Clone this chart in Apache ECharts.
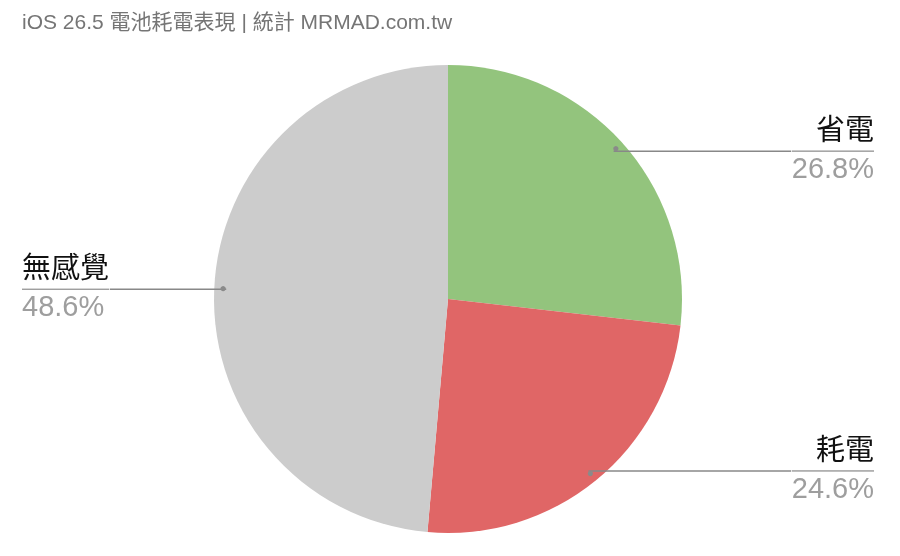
<!DOCTYPE html>
<html>
<head>
<meta charset="utf-8">
<script src="https://cdn.jsdelivr.net/npm/echarts@6/dist/echarts.min.js"></script>
<style>
html,body{margin:0;padding:0;background:#fff;}
#main{width:900px;height:556px;}
</style>
</head>
<body>
<div id="main"></div>
<script>
const titleText = 'iOS 26.5 電池耗電表現 | 統計 MRMAD.com.tw';
const categories = ['省電', '耗電', '無感覺'];
const values = [26.8, 24.6, 48.6];
const colors = ['#93c47d', '#e06666', '#cccccc'];

const FONT = 'Liberation Sans, Arial, "Noto Sans CJK TC", sans-serif';
const chart = echarts.init(document.getElementById('main'), null, {renderer: 'canvas'});
const CX = 448, CY = 299, R = 234, RL = 222;

const data = categories.map((c, i) => ({name: c, value: values[i]}));
const labelData = data.map((d, i) => (i === 2 ? {...d, label: {edgeDistance: 22}} : d));

chart.setOption({
  animation: false,
  title: {
    text: titleText,
    left: 17, top: 8,
    textStyle: {fontFamily: FONT, fontSize: 21, fontWeight: 'normal', color: '#757575'}
  },
  series: [
    {
      type: 'pie',
      z: 1,
      center: [CX, CY],
      radius: R,
      startAngle: 90,
      clockwise: true,
      silent: true,
      label: {show: false},
      labelLine: {show: false},
      itemStyle: {borderWidth: 0},
      data: data.map((d, i) => ({...d, itemStyle: {color: colors[i]}}))
    },
    {
      type: 'pie',
      z: 5,
      center: [CX, CY],
      radius: RL,
      startAngle: 90,
      clockwise: true,
      silent: true,
      avoidLabelOverlap: true,
      itemStyle: {color: 'rgba(0,0,0,0)'},
      label: {
        show: true,
        position: 'outside',
        alignTo: 'edge',
        edgeDistance: 26,
        distanceToLabelLine: 0,
        formatter: '{n|{b}}\n{hr|}\n{p|{c}%}',
        rich: {
          n: {fontFamily: FONT, fontSize: 29, color: '#111111', lineHeight: 38},
          hr: {width: '100%', height: 0, borderWidth: 0.75, borderColor: '#888888'},
          p: {fontFamily: FONT, fontSize: 29, color: '#9e9e9e', lineHeight: 38}
        }
      },
      labelLine: {show: true, length: 0, length2: 10, lineStyle: {color: '#888888', width: 1.5}},
      data: labelData
    },
    {
      type: 'pie',
      z: 6,
      center: [CX, CY],
      radius: [RL - 6, RL + 6],
      startAngle: 90,
      clockwise: true,
      silent: true,
      itemStyle: {color: 'rgba(0,0,0,0)'},
      label: {show: true, position: 'inside', formatter: '●', fontSize: 12, color: '#8a8a8a'},
      labelLine: {show: false},
      data: data
    }
  ]
});
</script>
</body>
</html>
